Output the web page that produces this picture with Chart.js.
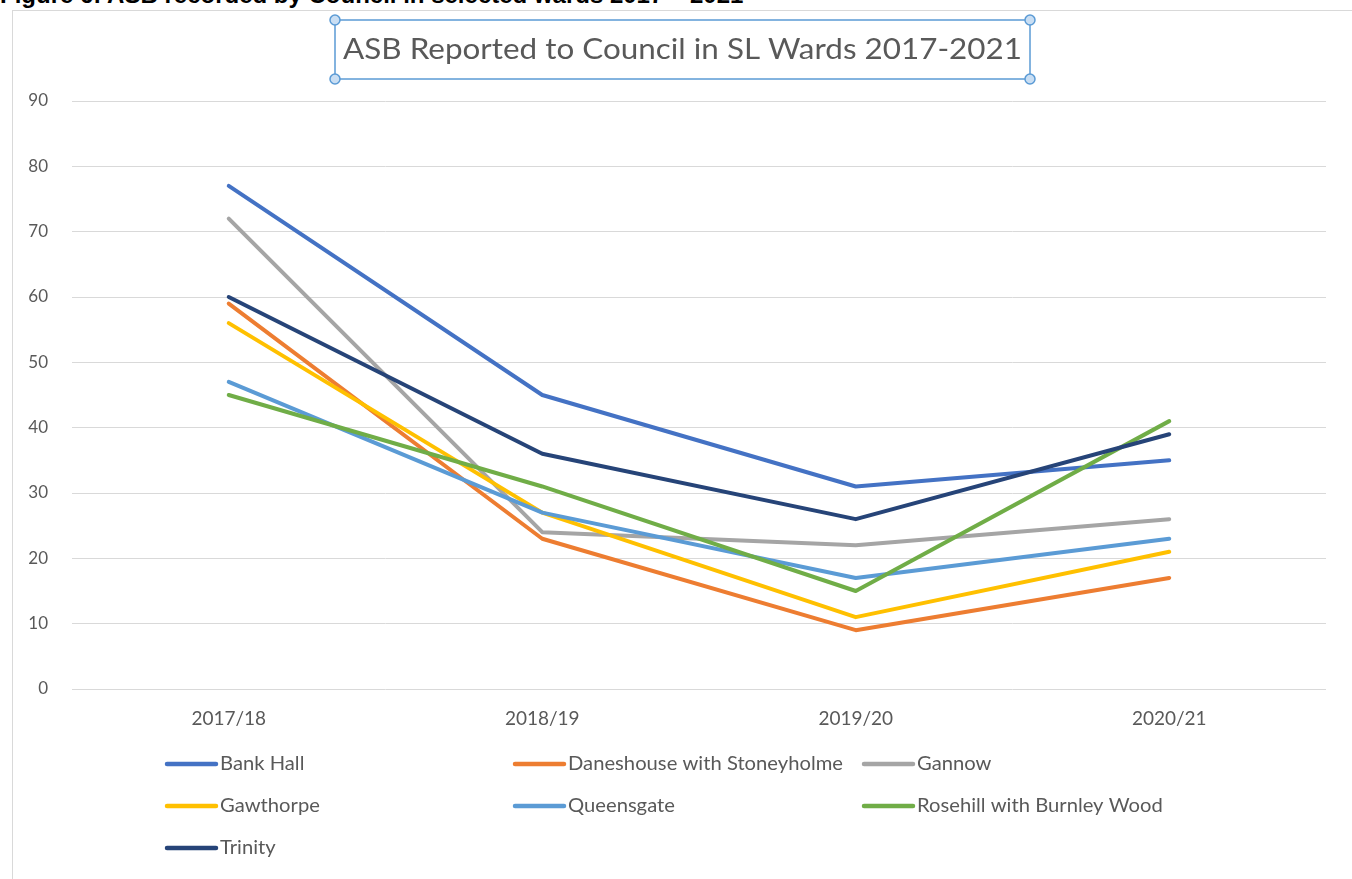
<!DOCTYPE html>
<html>
<head>
<meta charset="utf-8">
<script src="https://cdn.jsdelivr.net/npm/chart.js@4"></script>
<style>
  html,body{margin:0;padding:0;background:#fff;overflow:hidden;}
  #caption{position:absolute;left:0;top:-19px;font:bold 24px "Liberation Sans",Arial,sans-serif;color:#000;white-space:nowrap;}
  #frame{position:absolute;left:12px;top:10px;width:1360px;height:900px;border:1px solid #d9d9d9;box-sizing:border-box;}
  canvas{position:absolute;left:0;top:0;}
</style>
</head>
<body>
<div id="caption">Figure 6: ASB recorded by Council in selected wards 2017 – 2021</div>
<div id="frame"></div>
<canvas id="c" width="1352" height="879"></canvas>
<script>
const chartTitle = "ASB Reported to Council in SL Wards 2017-2021";
const categories = ["2017/18", "2018/19", "2019/20", "2020/21"];
const yTicks = [0, 10, 20, 30, 40, 50, 60, 70, 80, 90];
const seriesNames = ["Bank Hall", "Daneshouse with Stoneyholme", "Gannow", "Gawthorpe", "Queensgate", "Rosehill with Burnley Wood", "Trinity"];
const bankHall   = [77, 45, 31, 35];
const daneshouse = [59, 23, 9, 17];
const gannow     = [72, 24, 22, 26];
const gawthorpe  = [56, 27, 11, 21];
const queensgate = [47, 27, 17, 23];
const rosehill   = [45, 31, 15, 41];
const trinity    = [60, 36, 26, 39];
const seriesValues = [bankHall, daneshouse, gannow, gawthorpe, queensgate, rosehill, trinity];
const seriesColors = ["#4472c4", "#ed7d31", "#a5a5a5", "#ffc000", "#5b9bd5", "#70ad47", "#264478"];

const textColor = "#595959";
const fontFam = "Lato, 'Open Sans', sans-serif";

const datasets = seriesNames.map((n, i) => ({
  label: n,
  data: seriesValues[i],
  borderColor: seriesColors[i],
  backgroundColor: seriesColors[i],
  borderWidth: 4,
  pointRadius: 0,
  pointHoverRadius: 0,
  tension: 0,
  borderCapStyle: 'round',
  borderJoinStyle: 'round',
  order: seriesNames.length - i
}));

const decorPlugin = {
  id: 'decor',
  afterDraw(chart) {
    const ctx = chart.ctx;
    ctx.save();
    // Title box
    const bx = 335, by = 20, bw = 695, bh = 59;
    ctx.strokeStyle = "#5b9bd5";
    ctx.lineWidth = 1.5;
    ctx.strokeRect(bx, by, bw, bh);
    ctx.font = "29px " + fontFam;
    ctx.fillStyle = textColor;
    ctx.textBaseline = "middle";
    ctx.textAlign = "left";
    const tw = ctx.measureText(chartTitle).width;
    ctx.save();
    ctx.translate(343, 50);
    ctx.scale(679 / tw, 1);
    ctx.fillText(chartTitle, 0, 0);
    ctx.restore();
    [[bx, by], [bx + bw, by], [bx, by + bh], [bx + bw, by + bh]].forEach(([x, y]) => {
      ctx.beginPath();
      ctx.arc(x, y, 5, 0, Math.PI * 2);
      ctx.fillStyle = "#c9def3";
      ctx.fill();
      ctx.lineWidth = 1.5;
      ctx.strokeStyle = "#5b9bd5";
      ctx.stroke();
    });
    // Legend
    const colX = [165, 513, 862];
    const rowY = [764, 806, 848];
    ctx.font = "19px " + fontFam;
    const sx = 275 / ctx.measureText(seriesNames[1]).width;
    chart.data.datasets.forEach((ds, i) => {
      const x = colX[i % 3], y = rowY[Math.floor(i / 3)];
      ctx.beginPath();
      ctx.moveTo(x + 2, y);
      ctx.lineTo(x + 51, y);
      ctx.strokeStyle = ds.borderColor;
      ctx.lineWidth = 4.5;
      ctx.lineCap = 'round';
      ctx.stroke();
      ctx.fillStyle = textColor;
      ctx.textBaseline = "middle";
      ctx.save();
      ctx.translate(x + 55, y);
      ctx.scale(sx, 1.05);
      ctx.fillText(ds.label, 0, 0);
      ctx.restore();
    });
    ctx.restore();
  }
};

new Chart(document.getElementById('c'), {
  type: 'line',
  data: { labels: categories, datasets },
  options: {
    responsive: false,
    animation: false,
    devicePixelRatio: 1,
    layout: { padding: { left: 12, top: 101, right: 26, bottom: 0 } },
    plugins: { legend: { display: false }, title: { display: false }, tooltip: { enabled: false } },
    scales: {
      x: {
        offset: true,
        grid: { display: false, drawTicks: false },
        border: { display: false },
        ticks: { color: textColor, font: { family: fontFam, size: 19 }, padding: 18, maxRotation: 0 },
        afterFit(s) { s.height = 190; }
      },
      y: {
        min: 0, max: 90,
        afterBuildTicks(s) { s.ticks = yTicks.map(v => ({ value: v })); },
        grid: { color: "#d9d9d9", lineWidth: 1, drawTicks: false },
        border: { display: false },
        ticks: { color: textColor, font: { family: fontFam, size: 17 }, padding: 24 },
        afterFit(s) { s.width = 60; }
      }
    }
  },
  plugins: [decorPlugin]
});
</script>
</body>
</html>
